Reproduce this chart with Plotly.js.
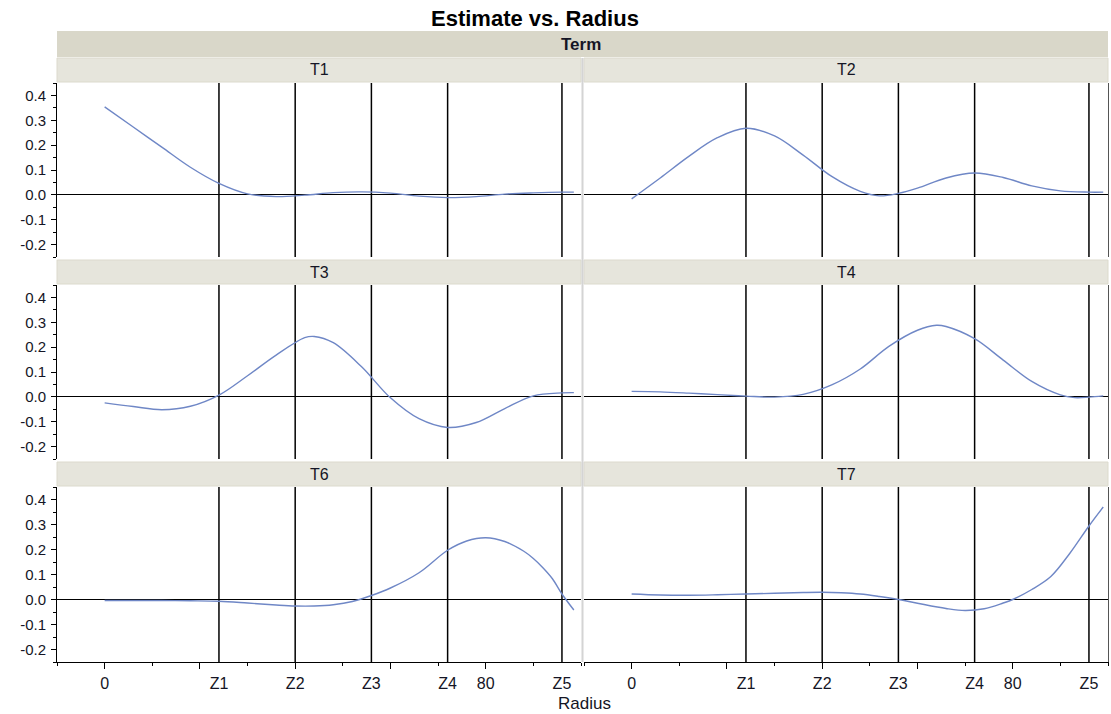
<!DOCTYPE html>
<html><head><meta charset="utf-8">
<script src="https://cdn.plot.ly/plotly-3.0.1.min.js"></script>
<style>html,body{margin:0;padding:0;background:#fff}#chart{width:1111px;height:714px}</style>
</head><body><div id="chart"></div>
<script>
// ---------- data ----------
const terms = ['T1', 'T2', 'T3', 'T4', 'T6', 'T7'];

const radiusT1 = [0, 6, 12, 18, 24, 30, 36, 42, 48, 54, 60, 66, 72, 78, 84, 90, 96, 98.5];
const estimateT1 = [0.354, 0.273, 0.192, 0.111, 0.046, 0.004, -0.007, -0.001, 0.009, 0.012, 0.007, -0.005, -0.011, -0.007, 0.003, 0.008, 0.011, 0.011];

const radiusT2 = [0, 6, 12, 18, 24, 30, 36, 42, 48, 52, 56, 60, 66, 72, 78, 84, 90, 96, 99];
const estimateT2 = [-0.016, 0.068, 0.155, 0.23, 0.268, 0.237, 0.16, 0.074, 0.014, -0.004, 0.006, 0.027, 0.068, 0.088, 0.07, 0.036, 0.016, 0.011, 0.011];

const radiusT3 = [0, 6, 12, 18, 24, 30, 36, 42, 44, 48, 54, 60, 66, 72, 78, 84, 90, 96, 98.5];
const estimateT3 = [-0.024, -0.039, -0.052, -0.038, 0.007, 0.085, 0.168, 0.238, 0.243, 0.218, 0.12, -0.004, -0.088, -0.123, -0.103, -0.047, 0.004, 0.016, 0.017];

const radiusT4 = [0, 6, 12, 18, 24, 30, 36, 42, 48, 54, 60, 64, 66, 72, 78, 84, 90, 93, 96, 99];
const estimateT4 = [0.022, 0.02, 0.015, 0.009, 0.003, -0.001, 0.01, 0.048, 0.112, 0.203, 0.268, 0.288, 0.283, 0.234, 0.148, 0.062, 0.008, -0.003, -0.001, 0.004];

const radiusT6 = [0, 6, 12, 18, 24, 30, 36, 40, 44, 48, 52, 56, 60, 66, 72, 76, 80, 84, 88, 90, 92, 94, 96, 98.5];
const estimateT6 = [-0.004, -0.004, -0.004, -0.005, -0.007, -0.014, -0.022, -0.026, -0.026, -0.021, -0.008, 0.016, 0.046, 0.107, 0.197, 0.234, 0.247, 0.232, 0.193, 0.164, 0.127, 0.083, 0.022, -0.042];

const radiusT7 = [0, 6, 12, 18, 24, 30, 36, 40, 44, 48, 52, 56, 60, 66, 70, 74, 78, 80, 84, 88, 92, 96, 99];
const estimateT7 = [0.022, 0.018, 0.017, 0.019, 0.022, 0.025, 0.028, 0.029, 0.027, 0.022, 0.012, 0.0, -0.015, -0.036, -0.044, -0.037, -0.014, 0.0, 0.04, 0.092, 0.185, 0.294, 0.37];

const knotPositions = [24, 40, 56, 72, 96];
const xLabelValues = [0, 24, 40, 56, 72, 80, 96];
const xLabelText = ['0', 'Z1', 'Z2', 'Z3', 'Z4', '80', 'Z5'];
const xMajorTicks = [0, 20, 40, 60, 80];
const xMinorTicks = [-10, 10, 30, 50, 70, 90, 100];
const yTickValues = [-0.2, -0.1, 0, 0.1, 0.2, 0.3, 0.4];
const yTickText = ['-0.2', '-0.1', '0.0', '0.1', '0.2', '0.3', '0.4'];
const yMinorTicks = [-0.25, -0.15, -0.05, 0.05, 0.15, 0.25, 0.35, 0.45];

const seriesX = [radiusT1, radiusT2, radiusT3, radiusT4, radiusT6, radiusT7];
const seriesY = [estimateT1, estimateT2, estimateT3, estimateT4, estimateT6, estimateT7];

// ---------- layout geometry (pixels) ----------
const W = 1111, H = 714;
const colPx = [[57, 581], [584, 1108]];
const rowPx = [[83, 257], [285, 459], [487, 662]];
const stripPx = [[58, 82], [260, 284], [462, 486]];
const fx = p => p / W;
const fy = p => 1 - p / H;
const FONT = 'Liberation Sans, Arial, sans-serif';
const TXT = '#151525';
const XR = [-10, 100], YR = [-0.25, 0.45];

const traces = [];
const layout = {
  width: W, height: H,
  margin: {l: 0, r: 0, t: 0, b: 0},
  paper_bgcolor: '#fff', plot_bgcolor: '#fff',
  showlegend: false,
  font: {family: FONT, size: 15, color: TXT},
  shapes: [], annotations: []
};

// header band
layout.shapes.push({type: 'rect', xref: 'paper', yref: 'paper', layer: 'below',
  x0: fx(57), x1: fx(1108), y0: fy(57), y1: fy(31),
  fillcolor: '#d9d7c9', line: {width: 0}});
layout.annotations.push({xref: 'paper', yref: 'paper', x: fx(581), y: fy(44), text: '<b>Term</b>',
  showarrow: false, font: {size: 17, color: TXT}, xanchor: 'center', yanchor: 'middle'});
layout.annotations.push({xref: 'paper', yref: 'paper', x: fx(535), y: fy(18), text: '<b>Estimate vs. Radius</b>',
  showarrow: false, font: {size: 22, color: '#000'}, xanchor: 'center', yanchor: 'middle'});
layout.annotations.push({xref: 'paper', yref: 'paper', x: fx(584), y: fy(703), text: 'Radius',
  showarrow: false, font: {size: 17, color: TXT}, xanchor: 'center', yanchor: 'middle'});

// separator between columns
layout.shapes.push({type: 'line', xref: 'paper', yref: 'paper', layer: 'above',
  x0: fx(582.5), x1: fx(582.5), y0: fy(58), y1: fy(662), line: {color: '#d4d4d4', width: 2}});

terms.forEach((name, i) => {
  const row = Math.floor(i / 2), col = i % 2;
  const sfx = i === 0 ? '' : String(i + 1);
  const xa = 'xaxis' + sfx, ya = 'yaxis' + sfx;
  const xr = 'x' + sfx, yr = 'y' + sfx;
  const bottom = row === 2;

  traces.push({x: seriesX[i], y: seriesY[i], xaxis: xr, yaxis: yr, type: 'scatter', mode: 'lines',
    line: {color: '#6f87c6', width: 1.4, shape: 'spline', smoothing: 1}, hoverinfo: 'skip'});

  layout[xa] = {
    domain: [fx(colPx[col][0]), fx(colPx[col][1])], range: XR, anchor: yr,
    showgrid: false, zeroline: false, fixedrange: true,
    showline: bottom, linecolor: '#000', linewidth: 1,
    ticks: '', showticklabels: bottom,
    tickmode: 'array', tickvals: xLabelValues, ticktext: xLabelText,
    ticklabelstandoff: 7,
    tickfont: {size: 16, color: TXT, family: FONT}
  };
  const yax = {
    domain: [fy(rowPx[row][1]), fy(rowPx[row][0])], range: YR, anchor: xr,
    showgrid: false, zeroline: true, zerolinecolor: '#000', zerolinewidth: 1, fixedrange: true
  };
  if (col === 0) {
    Object.assign(yax, {
      showline: true, linecolor: '#000', linewidth: 1,
      ticks: 'outside', ticklen: 5, tickcolor: '#000', tickwidth: 1,
      tickmode: 'array', tickvals: yTickValues, ticktext: yTickText,
      tickfont: {size: 15, color: TXT, family: FONT}, ticklabelstandoff: 2,
      minor: {tickmode: 'array', tickvals: yMinorTicks, ticks: 'outside', ticklen: 3, tickcolor: '#000', tickwidth: 1}
    });
  } else {
    Object.assign(yax, {showline: true, side: 'right', linecolor: '#555', linewidth: 1, ticks: '', showticklabels: false});
  }
  layout[ya] = yax;

  // knot lines
  knotPositions.forEach(z => {
    layout.shapes.push({type: 'line', xref: xr, yref: yr + ' domain', layer: 'below',
      x0: z, x1: z, y0: 0, y1: 1, line: {color: '#000', width: 1.5}});
  });

  // strip
  layout.shapes.push({type: 'rect', xref: 'paper', yref: 'paper', layer: 'below',
    x0: fx(colPx[col][0]), x1: fx(colPx[col][1]), y0: fy(stripPx[row][1]), y1: fy(stripPx[row][0]),
    fillcolor: '#e6e5dc', line: {color: '#dcdacd', width: 1}});
  layout.annotations.push({xref: 'paper', yref: 'paper',
    x: fx((colPx[col][0] + colPx[col][1]) / 2), y: fy((stripPx[row][0] + stripPx[row][1]) / 2),
    text: name, showarrow: false, font: {size: 16, color: TXT}, xanchor: 'center', yanchor: 'middle'});
});

// tick-mark axes overlaying the bottom row
[['xaxis7', 'x7', 'x5', 'y5', 4], ['xaxis8', 'x8', 'x6', 'y6', 5]].forEach(([key, id, base, yid, bi]) => {
  const col = bi % 2;
  layout[key] = {
    overlaying: base, anchor: yid, range: XR, domain: [fx(colPx[col][0]), fx(colPx[col][1])],
    showgrid: false, zeroline: false, showline: false, fixedrange: true,
    tickmode: 'array', tickvals: xMajorTicks, ticks: 'outside', ticklen: 6, tickcolor: '#000', tickwidth: 1,
    showticklabels: false,
    minor: {tickmode: 'array', tickvals: xMinorTicks, ticks: 'outside', ticklen: 3, tickcolor: '#000', tickwidth: 1}
  };
  traces.push({x: xMajorTicks, y: xMajorTicks.map(() => null), xaxis: id, yaxis: yid,
    type: 'scatter', mode: 'lines', hoverinfo: 'skip', showlegend: false});
});

Plotly.newPlot('chart', traces, layout, {staticPlot: true, displayModeBar: false});
</script>
</body></html>
